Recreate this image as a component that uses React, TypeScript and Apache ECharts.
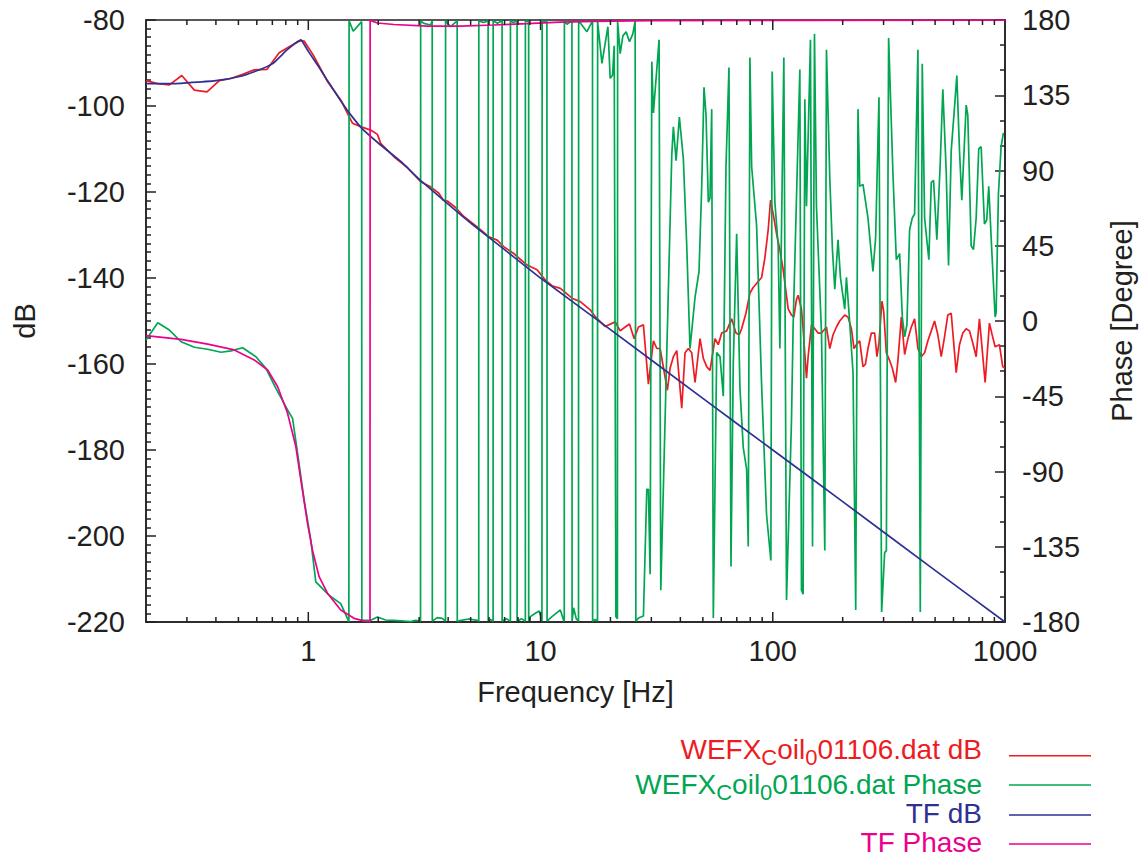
import React, { useEffect, useRef } from 'react';
import * as echarts from 'echarts';

// ---------- colours & fonts ----------
const RED = '#ed1c24';
const GREEN = '#00a651';
const BLUE = '#2e3192';
const MAGENTA = '#ec008c';
const INK = '#231f20';
const FONT = '"Liberation Sans", Arial, Helvetica, sans-serif';

// ---------- measured magnitude (WEFX_Coil_0 01106.dat dB) ----------
const redF = [
  0.2, 0.2244, 0.2522, 0.2852, 0.323, 0.3662, 0.4137, 0.4645, 0.5214, 0.5849,
  0.6632, 0.7489, 0.827, 0.9222, 0.9593, 1.059, 1.209, 1.379, 1.474, 1.549,
  1.681, 1.856, 1.984, 2.049, 2.337, 2.669, 3.044, 3.361, 3.649, 3.811,
  3.965, 4.304, 4.674, 5.335, 5.984, 6.503, 6.94, 7.662, 8.75, 9.661,
  10.49, 11.2, 12.17, 13.66, 14.83, 16.37, 17.2, 18.99, 20.96, 22.03,
  23.14, 24.15, 25.3, 26.4, 27.73, 29.14, 30.62, 31.67, 32.72, 35.17,
  36.12, 37.33, 38.61, 40.55, 41.9, 43.29, 44.77, 46.26, 48.61, 50.22,
  51.94, 53.67, 56.39, 58.26, 60.25, 63.31, 66.51, 69.41, 71.72, 73.44,
  76.64, 79.73, 82.36, 86.0, 89.5, 92.47, 95.55, 97.84, 100.4, 103.8,
  107.3, 110.8, 116.5, 120.4, 123.2, 126.6, 128.6, 132.9, 135.1, 139.7,
  142.0, 146.8, 151.7, 156.7, 162.1, 170.3, 176.0, 181.8, 188.0, 194.2,
  204.1, 210.9, 218.1, 223.8, 229.2, 236.8, 244.6, 250.5, 257.0, 265.8,
  274.6, 280.9, 286.6, 295.2, 300.3, 308.4, 318.7, 327.3, 338.1, 345.9,
  357.8, 369.7, 382.0, 395.0, 408.1, 421.7, 436.1, 450.6, 465.5, 481.4,
  497.4, 513.9, 531.5, 549.1, 567.3, 586.7, 616.5, 636.9, 658.1, 680.5,
  703.1, 726.5, 751.3, 776.2, 821.3, 856.9, 880.3, 906.7, 946.0, 977.5,
  1000,
];
const redDb = [
  -94.1, -94.8, -95.1, -92.9, -96.3, -96.7, -94.1, -93.6, -92.6, -91.6,
  -91.5, -87.6, -86.2, -84.8, -84.9, -88.5, -94.3, -98.6, -101.7, -104.0,
  -104.8, -105.6, -106.6, -108.7, -111.8, -114.3, -117.6, -118.8, -120.3, -121.9,
  -122.1, -123.6, -125.7, -128.1, -130.4, -131.2, -132.7, -134.3, -137.0, -138.1,
  -140.5, -141.8, -142.4, -144.7, -145.5, -147.4, -149.0, -151.3, -150.2, -152.3,
  -151.4, -150.7, -154.1, -151.4, -150.9, -164.7, -154.6, -156.4, -156.4, -166.1,
  -161.0, -158.3, -156.9, -170.3, -157.4, -156.4, -157.4, -164.3, -154.1, -158.7,
  -160.6, -161.5, -154.1, -155.5, -152.8, -152.3, -149.5, -152.8, -153.2, -151.8,
  -148.2, -143.5, -142.2, -141.0, -139.9, -135.3, -128.8, -121.9, -125.1, -129.7,
  -133.4, -138.0, -147.2, -148.6, -149.1, -144.9, -144.0, -147.2, -151.8, -163.3,
  -158.3, -150.9, -151.8, -152.8, -152.8, -151.4, -156.4, -153.2, -151.4, -150.0,
  -148.6, -149.1, -151.8, -156.4, -155.5, -154.6, -160.6, -160.1, -156.4, -152.8,
  -152.8, -158.3, -155.1, -145.4, -147.7, -157.4, -159.2, -161.0, -164.3, -159.2,
  -149.1, -157.8, -154.1, -151.4, -149.5, -156.4, -158.3, -157.4, -154.6, -152.3,
  -150.0, -153.2, -158.3, -153.7, -148.6, -148.2, -162.0, -155.5, -152.8, -151.8,
  -152.3, -155.1, -158.3, -149.5, -164.3, -150.5, -153.2, -156.0, -155.5, -160.6,
  -161.0,
];

// ---------- measured phase (WEFX_Coil_0 01106.dat Phase) ----------
const greenF = [
  0.2, 0.2248, 0.2522, 0.2832, 0.323, 0.3687, 0.4207, 0.4645, 0.5214, 0.5948,
  0.6569, 0.7251, 0.8142, 0.8554, 0.8986, 0.9593, 1.025, 1.077, 1.151, 1.228,
  1.379, 1.495, 1.498, 1.561, 1.697, 1.7, 1.737, 1.856, 1.984, 2.153,
  2.33, 2.573, 2.757, 2.897, 3.042, 3.046, 3.145, 3.361, 3.416, 3.42,
  3.592, 3.773, 3.896, 3.9, 4.097, 4.375, 4.379, 4.909, 5.335, 5.418,
  5.422, 5.678, 5.946, 5.95, 6.085, 6.248, 6.252, 6.522, 6.83, 6.834,
  7.129, 7.416, 7.42, 7.641, 7.923, 7.927, 8.27, 8.601, 8.605, 8.887,
  8.891, 9.04, 9.499, 9.881, 10.14, 10.16, 10.65, 10.67, 11.2, 12.17,
  12.57, 12.65, 12.67, 12.99, 13.65, 13.67, 13.88, 14.25, 14.57, 14.59,
  15.84, 16.74, 16.76, 17.2, 17.59, 17.61, 18.38, 19.5, 19.95, 20.41,
  20.76, 21.11, 21.43, 21.47, 22.03, 22.62, 23.37, 24.15, 24.97, 25.55,
  25.73, 26.4, 27.73, 28.68, 29.14, 29.64, 30.14, 30.62, 32.39, 32.94,
  36.74, 37.33, 38.34, 39.61, 41.2, 42.61, 44.02, 46.26, 48.13, 49.43,
  50.57, 51.59, 52.78, 53.67, 54.58, 55.46, 57.35, 59.25, 61.22, 62.88,
  64.77, 66.07, 67.59, 69.9, 72.22, 74.63, 77.18, 78.42, 79.73, 81.1,
  85.2, 89.5, 94.04, 98.13, 99.4, 102.1, 105.5, 107.3, 111.6, 114.6,
  120.4, 122.4, 130.8, 132.9, 135.1, 137.4, 139.7, 145.3, 148.3, 151.2,
  154.2, 162.1, 167.5, 170.3, 176.0, 180.7, 184.9, 191.0, 195.6, 204.1,
  207.6, 214.5, 221.6, 227.6, 232.8, 236.8, 244.6, 257.0, 270.0, 277.3,
  286.6, 294.3, 303.2, 308.4, 315.4, 329.3, 340.4, 351.8, 361.3, 369.7,
  378.1, 388.3, 398.8, 408.1, 421.7, 431.7, 440.3, 450.6, 470.0, 481.4,
  492.5, 508.8, 526.3, 539.9, 558.4, 571.3, 586.7, 606.2, 620.2, 636.9,
  651.6, 680.5, 691.4, 715.1, 731.6, 751.3, 770.9, 789.4, 815.5, 834.3,
  851.0, 876.7, 906.7, 915.6, 936.7, 962.0, 984.2,
];
const greenPhase = [
  -11.4, -1.0, -5.4, -12.4, -15.7, -16.9, -18.7, -17.9, -16.0, -21.4,
  -28.3, -40.3, -53.2, -58.2, -79, -107, -131, -156, -160, -164,
  -169, -179.8, 179.5, 173.3, 179.0, -179.2, -179.0, -179.0, -177.0, -178.8,
  -179.0, -179.4, -179.8, -179.0, -179.5, 179.5, 178.0, 177.0, 179.5, -179.5,
  -177.4, -177.8, -179.5, 179.5, 176.0, 179.5, -179.5, -178.2, -179.0, -179.5,
  179.5, 178.5, 179.5, -179.5, -178.5, -179.5, 179.5, 178.0, 179.5, -179.5,
  -178.0, -179.5, 179.5, 178.5, 179.5, -179.5, -178.0, -179.5, 179.5, 179.0,
  -179.5, -176.8, -174.8, -173.4, -179.5, 179.5, 179.0, -179.5, -176.8, -172.8,
  -179.0, -179.5, 179.5, 177.4, 179.5, -179.5, -171.5, -178.0, -179.5, 179.5,
  173.0, 179.5, -179.5, -178.5, -179.5, 179.0, 154.1, 176.0, 145.1, 147.0,
  164.6, -176.8, -178.0, 179.0, 159.9, 170.5, 172.9, 167.0, 171.7, 179.5,
  -179.5, -177.6, -176.4, -100.6, -100.6, -151.5, 155.1, 124.4, 168.2, -161.0,
  99.5, 116.1, 95.9, 122.0, 97.1, 45.0, -16.5, 14.2, 29.6, 80.5,
  139.7, 123.2, 71.1, 73.4, 126.7, -177.6, -18.9, -21.3, -45.0, 92.4,
  151.6, -146.8, -26.0, 52.1, -40.2, -75.7, -88.8, -134.9, 157.5, 92.4,
  56.9, -37.9, -116.0, -143.2, 149.2, 71.1, 45.0, -16.5, 157.5, -166.9,
  -59.2, -2.3, 150.4, -161.0, -163.4, 132.6, 68.7, 168.2, -134.9, 171.7,
  68.7, -7.1, -137.3, 162.2, 85.3, 42.7, 19.0, 48.6, 26.1, 7.1,
  26.1, -1.2, -30.8, -172.8, 126.7, 80.5, 81.7, 61.6, 29.6, 49.8,
  133.8, -174.0, -138.5, -137.3, 169.3, 87.6, 36.7, 40.3, 2.4, -9.4,
  -2.3, 54.5, 61.6, 64.0, 162.2, -174.0, 153.9, 61.6, 36.7, 82.9,
  84.1, 48.6, 94.8, 138.6, 88.9, 33.2, 101.9, 127.9, 146.8, 101.9,
  72.3, 129.1, 123.2, 45.0, 42.7, 61.6, 103.0, 104.2, 58.0, 60.4,
  80.5, 42.7, 2.4, 4.8, 75.8, 104.2, 112.5,
];

// ---------- transfer-function model (TF dB) ----------
const tfF = [
  0.2, 0.25, 0.3, 0.4, 0.5, 0.6, 0.7, 0.76, 0.8, 0.85,
  0.9, 0.93, 0.96, 1.0, 1.1, 1.2, 1.3, 1.4, 1.5, 1.7,
  2.0, 2.5, 3.0, 4.0, 5.0, 7.0, 10, 20, 50, 100,
  200, 500, 1000,
];
const tfDb = [
  -94.8, -94.8, -94.6, -94.1, -93.2, -91.8, -90.2, -88.4, -87.2, -86.0,
  -85.0, -84.6, -85.7, -87.3, -90.6, -93.8, -96.7, -99.3, -101.6, -105.2,
  -108.6, -112.9, -117.0, -122.8, -127.2, -133.4, -140, -152, -168, -180,
  -192, -208, -220,
];

// ---------- transfer-function model (TF Phase) ----------
const tfPhF = [
  0.2, 0.283, 0.369, 0.48, 0.585, 0.668, 0.738, 0.814, 0.884, 0.929,
  0.992, 1.042, 1.113, 1.209, 1.379, 1.573, 1.766, 1.843, 1.846, 1.984,
  2.337, 3.254, 4.516, 6.276, 8.75, 12.17, 16.9, 30, 100, 1000,
];
const tfPhase = [
  -8.8, -11.0, -13.8, -17.3, -23.3, -29.3, -39.3, -55.2, -75.2, -95.1,
  -121, -137, -152.9, -162.8, -172.8, -177.8, -179.6, -179.9, 179.8, 178.2,
  177.3, 176.3, 176.3, 177.0, 177.8, 178.7, 179.2, 179.6, 179.8, 179.9,
];

// ---------- axis ticks ----------
const xMajorTicks = [1, 10, 100];
const xMinorTicks = [
  0.3, 0.4, 0.5, 0.6, 0.7, 0.8, 0.9,
  2, 3, 4, 5, 6, 7, 8, 9,
  20, 30, 40, 50, 60, 70, 80, 90,
  200, 300, 400, 500, 600, 700, 800, 900,
];

// ---------- legend ----------
const legendColors = [RED, GREEN, BLUE, MAGENTA];
const legendLabels = [
  '{n|WEFX}{s|C}{n|oil}{s|0}{n|01106.dat dB}',
  '{n|WEFX}{s|C}{n|oil}{s|0}{n|01106.dat Phase}',
  'TF dB',
  'TF Phase',
];

const zip = (f: number[], v: number[]) => f.map((x, i) => [x, v[i]]);

function buildOption(): any {
  const tickData = [
    ...xMajorTicks.map((f) => [f, -150, 10]),
    ...xMinorTicks.map((f) => [f, -150, 5]),
  ];
  const axisLine = { show: true, onZero: false, lineStyle: { color: INK, width: 1.5 } };
  const tickStyle = { color: INK, width: 1.5 };
  const nameStyle = { fontSize: 29, color: INK, fontFamily: FONT };
  const labelStyle = { fontSize: 29, color: INK, fontFamily: FONT };

  const lineRows = [755.7, 785, 815, 844];
  const textCenters = [749.5, 784.5, 813.5, 842.5];

  const graphic: any[] = [];
  legendLabels.forEach((lab, i) => {
    const c = legendColors[i];
    graphic.push({
      type: 'line',
      shape: { x1: 1009, y1: lineRows[i], x2: 1091, y2: lineRows[i] },
      style: { stroke: c, lineWidth: 1.6 },
    });
    const isRich = lab.indexOf('{') === 0;
    graphic.push({
      type: 'text',
      x: 982,
      y: textCenters[i],
      style: {
        text: lab,
        align: 'right',
        verticalAlign: 'middle',
        fill: c,
        fontSize: 28,
        fontFamily: FONT,
        rich: isRich
          ? {
              n: { fontSize: 28, lineHeight: 28, verticalAlign: 'middle', fill: c, fontFamily: FONT },
              s: { fontSize: 22, lineHeight: 38, verticalAlign: 'bottom', fill: c, fontFamily: FONT },
            }
          : undefined,
      },
    });
  });

  return {
    animation: false,
    backgroundColor: '#ffffff',
    textStyle: { fontFamily: FONT },
    grid: {
      left: 146,
      right: 143,
      top: 20,
      bottom: 237,
      show: true,
      borderColor: INK,
      borderWidth: 1.5,
      backgroundColor: 'transparent',
    },
    xAxis: [
      {
        type: 'log',
        logBase: 10,
        min: 0.2,
        max: 1000,
        name: 'Frequency [Hz]',
        nameLocation: 'middle',
        nameGap: 55,
        nameTextStyle: nameStyle,
        axisLine,
        axisTick: { show: false },
        splitLine: { show: false },
        axisLabel: {
          ...labelStyle,
          margin: 14,
          formatter: (v: number) => (v >= 1 ? String(Math.round(v)) : ''),
        },
      },
    ],
    yAxis: [
      {
        type: 'value',
        position: 'left',
        min: -220,
        max: -80,
        interval: 20,
        name: 'dB',
        nameLocation: 'middle',
        nameGap: 107,
        nameTextStyle: nameStyle,
        axisLine,
        axisTick: { show: true, inside: true, length: 10, lineStyle: tickStyle },
        minorTick: { show: true, splitNumber: 10, length: 5, lineStyle: tickStyle },
        splitLine: { show: false },
        minorSplitLine: { show: false },
        axisLabel: { ...labelStyle, margin: 21 },
      },
      {
        type: 'value',
        position: 'right',
        min: -180,
        max: 180,
        interval: 45,
        name: 'Phase [Degree]',
        nameLocation: 'middle',
        nameGap: 102,
        nameTextStyle: nameStyle,
        axisLine,
        axisTick: { show: true, inside: true, length: 10, lineStyle: tickStyle },
        minorTick: { show: true, splitNumber: 3, length: 5, lineStyle: tickStyle },
        splitLine: { show: false },
        minorSplitLine: { show: false },
        axisLabel: { ...labelStyle, margin: 17 },
      },
    ],
    series: [
      {
        name: 'WEFX_Coil_0 01106.dat dB',
        type: 'line',
        xAxisIndex: 0,
        yAxisIndex: 0,
        data: zip(redF, redDb),
        showSymbol: false,
        symbol: 'none',
        lineStyle: { color: RED, width: 1.7 },
        itemStyle: { color: RED },
        z: 2,
      },
      {
        name: 'WEFX_Coil_0 01106.dat Phase',
        type: 'line',
        xAxisIndex: 0,
        yAxisIndex: 1,
        data: zip(greenF, greenPhase),
        showSymbol: false,
        symbol: 'none',
        lineStyle: { color: GREEN, width: 1.7 },
        itemStyle: { color: GREEN },
        z: 3,
      },
      {
        name: 'TF dB',
        type: 'line',
        xAxisIndex: 0,
        yAxisIndex: 0,
        data: zip(tfF, tfDb),
        showSymbol: false,
        symbol: 'none',
        smooth: 0.15,
        lineStyle: { color: BLUE, width: 1.7 },
        itemStyle: { color: BLUE },
        z: 4,
      },
      {
        name: 'TF Phase',
        type: 'line',
        xAxisIndex: 0,
        yAxisIndex: 1,
        data: zip(tfPhF, tfPhase),
        showSymbol: false,
        symbol: 'none',
        lineStyle: { color: MAGENTA, width: 1.7 },
        itemStyle: { color: MAGENTA },
        z: 5,
      },
      {
        type: 'custom',
        xAxisIndex: 0,
        yAxisIndex: 0,
        silent: true,
        clip: false,
        z: 10,
        encode: { x: 0, y: 1 },
        data: tickData,
        renderItem: (params: any, api: any) => {
          const f = api.value(0);
          const len = api.value(2);
          const pb = api.coord([f, -220]);
          const pt = api.coord([f, -80]);
          return {
            type: 'group',
            children: [
              {
                type: 'line',
                shape: { x1: pb[0], y1: pb[1], x2: pb[0], y2: pb[1] - len },
                style: { stroke: INK, lineWidth: 1.5 },
              },
              {
                type: 'line',
                shape: { x1: pt[0], y1: pt[1], x2: pt[0], y2: pt[1] + len },
                style: { stroke: INK, lineWidth: 1.5 },
              },
            ],
          };
        },
      },
    ],
    graphic,
  };
}

export default function App() {
  const ref = useRef<HTMLDivElement>(null);
  useEffect(() => {
    document.body.style.margin = '0';
    if (!ref.current) return;
    const chart = echarts.init(ref.current, null, { renderer: 'svg' });
    chart.setOption(buildOption());
    return () => {
      chart.dispose();
    };
  }, []);
  return (
    <div
      ref={ref}
      style={{ position: 'absolute', left: 0, top: 0, width: 1148, height: 859, background: '#ffffff' }}
    />
  );
}
